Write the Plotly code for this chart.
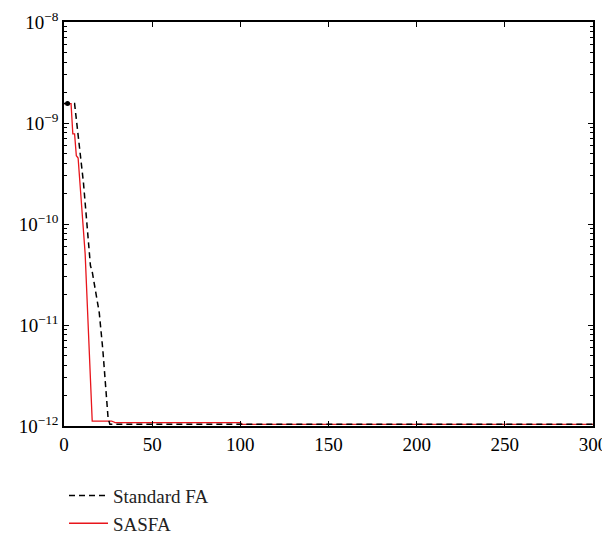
import plotly.graph_objects as go

# Standard FA (black dashed)
fa_iter = [0, 6, 11, 15, 16, 20, 22, 25, 26, 300]
fa_val = [1.556e-9, 1.556e-9, 2.6e-10, 3.86e-11, 3.37e-11, 1.32e-11, 5.74e-12, 1.2e-12, 1.04e-12, 1.04e-12]

# SASFA (red)
sa_iter = [0, 4, 5, 6, 7, 8, 12, 16, 27, 29, 100, 101, 300]
sa_val = [1.556e-9, 1.556e-9, 7.8e-10, 7.8e-10, 4.74e-10, 4.5e-10, 5.05e-11, 1.12e-12, 1.12e-12, 1.08e-12, 1.08e-12, 1.04e-12, 1.04e-12]

# start marker
dot_iter = [2]
dot_val = [1.556e-9]

xtick_vals = [0, 50, 100, 150, 200, 250, 300]
ytick_vals = [1e-12, 1e-11, 1e-10, 1e-9, 1e-8]
ytick_text = ["10<sup>\u221212</sup>", "10<sup>\u221211</sup>", "10<sup>\u221210</sup>",
              "10<sup>\u22129</sup>", "10<sup>\u22128</sup>"]
minor_vals = [m * 10.0 ** e for e in range(-12, -8) for m in range(2, 10)]

font = "Liberation Serif"

fig = go.Figure()
fig.add_trace(go.Scatter(x=sa_iter, y=sa_val, mode="lines", name="SASFA",
                         line=dict(color="#e8151b", width=1.3), legendrank=2))
fig.add_trace(go.Scatter(x=fa_iter, y=fa_val, mode="lines", name="Standard FA",
                         line=dict(color="black", width=1.5, dash="6px,4px"), legendrank=1))
fig.add_trace(go.Scatter(x=dot_iter, y=dot_val, mode="markers", showlegend=False,
                         marker=dict(color="black", size=5)))

# plot area: top kept a few px lower so the 10^-8 superscript is not clipped
fig.update_layout(
    width=610, height=539,
    margin=dict(l=55.5, r=25, t=14, b=121.3, autoexpand=False),
    plot_bgcolor="white", paper_bgcolor="white",
    font=dict(family=font, size=19, color="black"),
    showlegend=True,
    legend=dict(x=0, y=-0.1255, xanchor="left", yanchor="top", itemwidth=39,
                font=dict(family=font, size=19, color="#222222"),
                bgcolor="rgba(0,0,0,0)"),
    xaxis=dict(range=[0, 300], tickmode="array", tickvals=xtick_vals,
               ticks="inside", ticklen=5, tickcolor="black", showgrid=False, zeroline=False,
               showline=True, linecolor="black", linewidth=1.5, mirror="ticks",
               tickfont=dict(family=font, size=19), ticklabeloverflow="allow"),
    yaxis=dict(type="log", range=[-12, -8], tickmode="array", tickvals=ytick_vals,
               ticktext=ytick_text, ticks="inside", ticklen=5, tickcolor="black",
               showgrid=False, zeroline=False, showline=True, linecolor="black",
               linewidth=1.5, mirror="ticks", tickfont=dict(family=font, size=19),
               ticklabeloverflow="allow",
               minor=dict(tickmode="array", tickvals=minor_vals, ticks="inside",
                          ticklen=3, tickcolor="black", showgrid=False)),
)

fig.write_html("out.html")
